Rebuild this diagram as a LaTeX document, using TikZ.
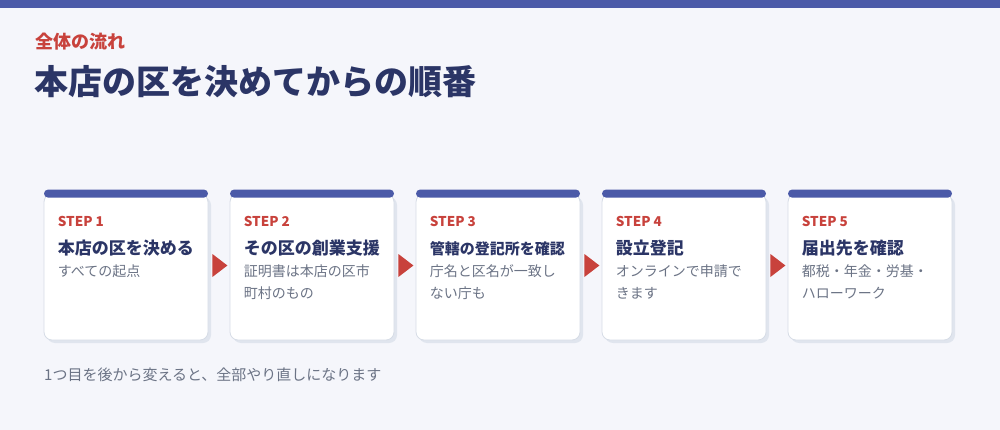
\documentclass[tikz,border=0pt]{standalone}
\usepackage{fontspec}
\setmainfont{Noto Sans CJK JP}
\usepackage{xcolor}
\usetikzlibrary{positioning,calc,shadows}

\definecolor{bgc}{HTML}{F5F6FB}
\definecolor{barc}{HTML}{4B5AA8}
\definecolor{redc}{HTML}{C8423C}
\definecolor{navyc}{HTML}{2B3566}
\definecolor{grayc}{HTML}{6B7385}
\definecolor{edgec}{HTML}{D6DCE6}
\definecolor{shadc}{HTML}{E0E5EE}

\begin{document}
\begin{tikzpicture}[
	x=1pt,y=-1pt,
	line cap=round,line join=round,
	card/.style={draw=edgec, line width=0.8pt, fill=white, rounded corners=8pt,
		minimum width=164pt, minimum height=146pt, inner sep=0pt,
		drop shadow={fill=shadc, opacity=1, shadow xshift=3pt, shadow yshift=-3pt}},
	topbar/.style={fill=barc, rounded corners=4pt, minimum width=164pt,
		minimum height=8pt, inner sep=0pt},
	steplbl/.style={anchor=base west, inner sep=0pt, text=redc,
		font=\bfseries\fontsize{13.5}{13.5}\selectfont},
	steptitle/.style={anchor=base west, inner sep=0pt, text=navyc, font=\bfseries},
	stepdesc/.style={anchor=base west, inner sep=0pt, text=grayc,
		font=\fontsize{14}{14}\selectfont},
	flowarrow/.style={fill=redc}
	]
	%----- parameters
	\def\cardW{164}
	\def\pitch{186}
	\def\cardY{267}
	
	%----- background + top stripe
	\fill[bgc] (0,0) rectangle (1000,430);
	\useasboundingbox (0,0) rectangle (1000,430);
	\fill[barc] (0,0) rectangle (1000,8);
	
	%----- heading
	\node[anchor=base west, inner sep=0pt, text=redc,
		font=\bfseries\fontsize{18}{18}\selectfont] (kicker) at (35,49) {全体の流れ};
	\node[anchor=base west, inner sep=0pt, text=navyc,
		font=\bfseries\fontsize{34}{34}\selectfont] (title) at (34,95) {本店の区を決めてからの順番};
	
	%----- step cards
	\foreach \i/\ttl/\sz/\da/\db in {
		1/本店の区を決める/17/すべての起点/{},
		2/その区の創業支援/17/証明書は本店の区市/町村のもの,
		3/管轄の登記所を確認/15/庁名と区名が一致し/ない庁も,
		4/設立登記/17/オンラインで申請で/きます,
		5/届出先を確認/17/都税・年金・労基・/ハローワーク}{
		\pgfmathsetmacro\cx{44+(\i-1)*\pitch+\cardW/2}
		\node[card] (c\i) at (\cx,\cardY) {};
		\node[topbar] (b\i) at (c\i.north) {};
		\node[steplbl] (s\i) at ($(c\i.north west)+(14,33)$) {STEP \i};
		\node[steptitle, font=\bfseries\fontsize{\sz}{\sz}\selectfont] (t\i)
			at ($(c\i.north west)+(14,60.5)$) {\ttl};
		\node[stepdesc] (da\i) at ($(c\i.north west)+(14,83)$) {\da};
		\node[stepdesc] (db\i) at ($(c\i.north west)+(14,105)$) {\db};
		% arrow to the next card
		\ifnum\i<5
			\fill[flowarrow] ($(c\i.east)+(4,-13)$) -- ($(c\i.east)+(19,-1.5)$)
				-- ($(c\i.east)+(4,10)$) -- cycle;
		\fi
	}
	
	%----- footnote
	\node[anchor=base west, inner sep=0pt, text=grayc,
		font=\fontsize{15}{15}\selectfont] (note) at (44,380.5) {1つ目を後から変えると、全部やり直しになります};
\end{tikzpicture}
\end{document}
